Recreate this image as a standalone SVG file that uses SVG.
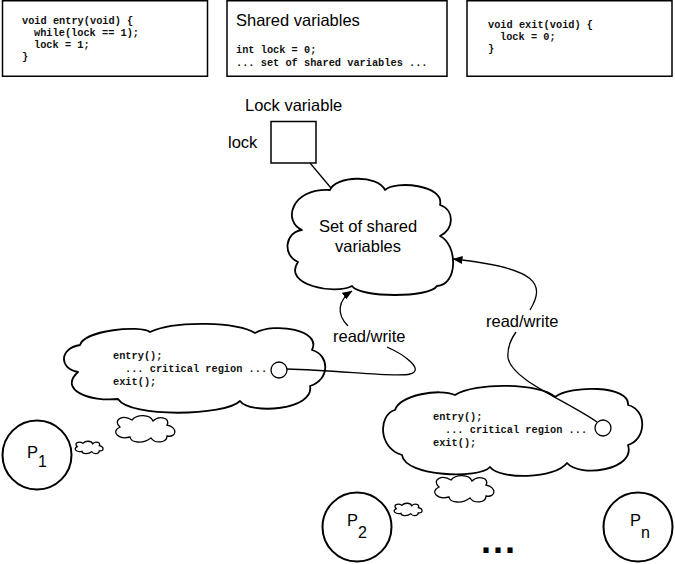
<svg xmlns="http://www.w3.org/2000/svg" width="675" height="564" viewBox="0 0 675 564">
<style>
.box{fill:#fff;stroke:#000;stroke-width:1.5}
.cloud{fill:#fff;stroke:#000;stroke-width:1.8;stroke-linejoin:round}
.proc{fill:#fff;stroke:#000;stroke-width:2}
.conn{fill:none;stroke:#000;stroke-width:1.3}
.mono{font-family:"Liberation Mono","Courier New",monospace;font-size:10.3px;fill:#111;font-weight:bold}
.sans{font-family:"Liberation Sans",Arial,Helvetica,sans-serif;font-size:16.5px;fill:#000}
.sub{font-family:"Liberation Sans",Arial,Helvetica,sans-serif;font-size:16px;fill:#000}
</style>
<defs>
<marker id="arrow" viewBox="0 0 10 8" refX="9.5" refY="4" markerWidth="10" markerHeight="8" markerUnits="userSpaceOnUse" orient="auto">
<path d="M0,0 L10,4 L0,8 Z" fill="#000"/>
</marker>
<path id="smallcloud" d="M -25,-3 C -33,-10 -22,-16 -13,-10 C -8,-16 5,-16 8,-9 C 14,-15 26,-12 22,-5 C 33,-3 32,8 22,6 C 22,13 10,14 6,8 C -2,14 -14,13 -15,7 C -26,10 -35,2 -25,-3 Z" fill="#fff" stroke="#000" stroke-width="1.3" vector-effect="non-scaling-stroke"/>
</defs>

<g id="box-entry">
<rect class="box" x="2.5" y="0.75" width="205" height="75.5"/>
<text class="mono" x="22" y="23.5">void entry(void) {</text>
<text class="mono" x="34" y="35.5">while(lock == 1);</text>
<text class="mono" x="34" y="47.5">lock = 1;</text>
<text class="mono" x="22" y="60">}</text>
</g>

<g id="box-shared">
<rect class="box" x="227" y="0.75" width="220" height="75.5"/>
<text class="sans" x="236" y="26">Shared variables</text>
<text class="mono" x="236" y="53">int lock = 0;</text>
<text class="mono" x="236" y="65.5">... set of shared variables ...</text>
</g>

<g id="box-exit">
<rect class="box" x="467" y="0.75" width="205" height="75.5"/>
<text class="mono" x="488" y="28">void exit(void) {</text>
<text class="mono" x="500" y="40">lock = 0;</text>
<text class="mono" x="488" y="52">}</text>
</g>

<g id="lock-variable">
<text class="sans" x="245" y="111">Lock variable</text>
<text class="sans" x="228" y="148">lock</text>
<rect class="box" x="271" y="121.5" width="45" height="41.5"/>
</g>

<g id="shared-cloud">
<path class="cloud" d="M 330,190 C 335,176 378,174 385,190 C 395,180 445,185 440,205 C 455,210 454,230 440,236 C 458,245 458,285 437,286 C 430,298 360,298 352,286 C 335,295 282,285 298,262 C 282,255 285,232 302,230 C 283,222 290,188 330,190 Z"/>
<text class="sans" x="368" y="232" text-anchor="middle">Set of shared</text>
<text class="sans" x="368" y="252" text-anchor="middle">variables</text>
</g>

<g id="label-rw-left">
<text class="sans" x="333" y="342">read/write</text>
</g>
<g id="label-rw-right">
<text class="sans" x="486" y="327">read/write</text>
</g>

<g id="thought-p1">
<path class="cloud" d="M 80,345 C 85,330 140,325 150,332 C 175,320 240,322 255,333 C 275,322 322,330 312,350 C 330,355 330,380 310,386 C 315,410 250,415 240,401 C 225,416 130,418 118,399 C 90,402 58,390 78,372 C 58,368 60,348 80,345 Z"/>
<text class="mono" x="113" y="359">entry();</text>
<text class="mono" x="125" y="372">... critical region ...</text>
<text class="mono" x="113" y="385">exit();</text>
<circle cx="279" cy="370" r="8" fill="#fff" stroke="#000" stroke-width="1.3"/>
</g>

<g id="thought-p2">
<path class="cloud" d="M 395,410 C 400,395 440,388 455,395 C 475,382 540,383 555,397 C 570,385 630,385 628,405 C 648,410 646,440 628,445 C 636,470 580,478 567,463 C 555,479 500,480 490,467 C 480,479 405,477 402,455 C 378,448 378,415 395,410 Z"/>
<text class="mono" x="433" y="420">entry();</text>
<text class="mono" x="445" y="433">... critical region ...</text>
<text class="mono" x="433" y="446">exit();</text>
<circle cx="603" cy="428" r="8" fill="#fff" stroke="#000" stroke-width="1.3"/>
</g>

<g id="connectors">
<line class="conn" x1="310" y1="163" x2="331" y2="188"/>
<path class="conn" d="M 287,369 C 340,370 395,378 410,374 C 425,370 405,355 387,347"/>
<path class="conn" d="M 348,326 C 336,314 338,300 352,291" marker-end="url(#arrow)"/>
<path class="conn" d="M 597,422 C 565,400 512,380 508,358 C 507,347 511,339 516,332"/>
<path class="conn" d="M 530,310 C 545,285 540,268 453,259" marker-end="url(#arrow)"/>
</g>

<g id="bubbles-p1">
<use href="#smallcloud" transform="translate(145,430)"/>
<use href="#smallcloud" transform="translate(89,448) scale(0.47)"/>
</g>
<g id="bubbles-p2">
<use href="#smallcloud" transform="translate(464,490)"/>
<use href="#smallcloud" transform="translate(408,510) scale(0.47)"/>
</g>

<g id="p1">
<circle class="proc" cx="37" cy="455" r="34.5"/>
<text class="sans" x="27" y="458">P</text>
<text class="sub" x="38" y="467">1</text>
</g>
<g id="p2">
<circle class="proc" cx="357" cy="527" r="34.5"/>
<text class="sans" x="347" y="526">P</text>
<text class="sub" x="358" y="538">2</text>
</g>
<g id="pn">
<circle class="proc" cx="638" cy="527" r="34.5"/>
<text class="sans" x="630" y="526">P</text>
<text class="sub" x="641" y="538">n</text>
</g>

<g id="ellipsis">
<text x="481" y="553" style="font-family:'Liberation Sans',Arial,sans-serif;font-size:36px;font-weight:bold;letter-spacing:2px">...</text>
</g>
</svg>
